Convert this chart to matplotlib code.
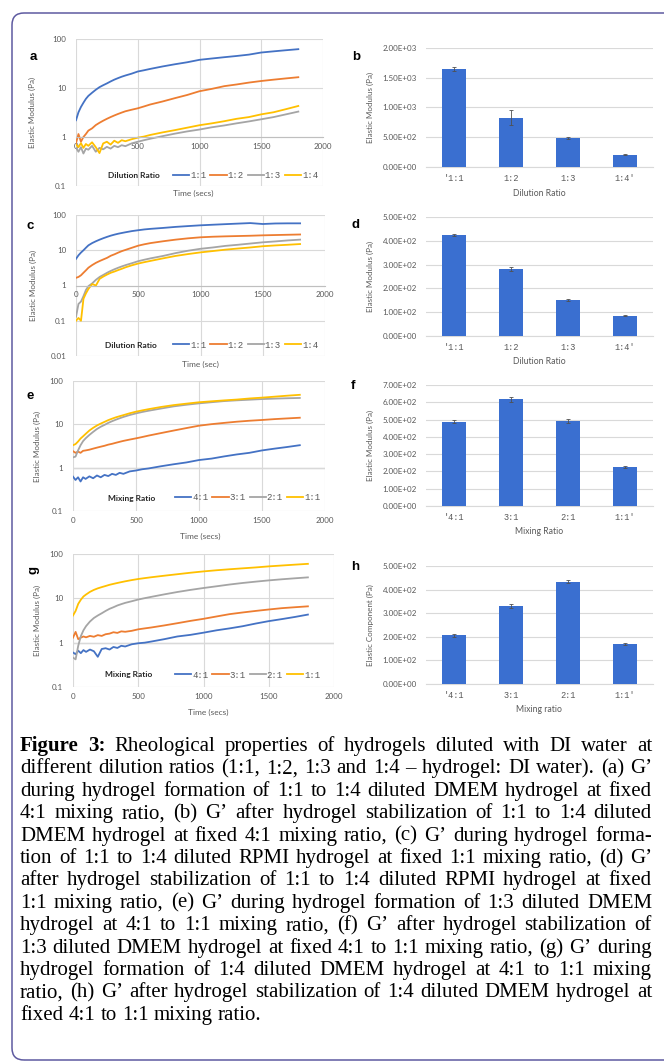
import matplotlib
matplotlib.use("Agg")
import matplotlib.pyplot as plt
from matplotlib.lines import Line2D
from matplotlib.patches import FancyBboxPatch
from matplotlib.transforms import IdentityTransform

W, H = 664, 1061
plt.rcParams['font.family'] = ['Lato', 'DejaVu Sans']

# ── data ────────────────────────────────────────────────────────────────
time_s = [0, 20, 40, 60, 80, 100, 130, 160, 190, 220, 250, 280, 310, 340, 370, 400,
          450, 500, 550, 600, 700, 800, 900, 1000, 1100, 1200, 1300, 1400, 1500, 1600, 1700, 1800]

# (a) DMEM, dilution 1:1 .. 1:4
a_11 = [2.2, 3.2, 4.1, 5.0, 6.0, 6.9, 8.0, 9.2, 10.4, 11.4, 12.4, 13.6, 14.8, 15.9, 17.0, 18.0,
        19.6, 21.7, 23.0, 24.5, 27.5, 30.5, 33.5, 37.6, 40.0, 42.5, 45.0, 48.0, 53.0, 56.0, 59.0, 62.0]
a_12 = [0.75, 1.15, 0.8, 1.0, 1.15, 1.35, 1.5, 1.75, 1.95, 2.15, 2.35, 2.55, 2.75, 2.95, 3.15, 3.35,
        3.6, 3.85, 4.2, 4.6, 5.3, 6.2, 7.2, 8.6, 9.6, 10.9, 11.8, 12.9, 13.9, 14.8, 15.7, 16.6]
a_13 = [0.6, 0.5, 0.62, 0.46, 0.58, 0.55, 0.66, 0.5, 0.6, 0.56, 0.63, 0.58, 0.66, 0.62, 0.68, 0.65,
        0.74, 0.8, 0.86, 0.92, 1.04, 1.17, 1.3, 1.42, 1.58, 1.72, 1.9, 2.08, 2.3, 2.55, 2.9, 3.3]
a_14 = [0.7, 0.62, 0.75, 0.6, 0.72, 0.66, 0.78, 0.62, 0.47, 0.74, 0.8, 0.7, 0.84, 0.76, 0.86, 0.82,
        0.9, 0.97, 1.02, 1.1, 1.24, 1.38, 1.55, 1.74, 1.9, 2.1, 2.35, 2.55, 2.9, 3.2, 3.7, 4.3]

# (c) RPMI, dilution 1:1 .. 1:4
c_11 = [5.7, 7.2, 8.6, 10.0, 11.8, 13.8, 16.0, 18.0, 20.0, 22.0, 24.0, 26.0, 27.8, 29.5, 31.0, 32.5,
        35.0, 37.0, 39.0, 40.5, 43.0, 46.0, 48.5, 51.0, 53.0, 55.0, 57.0, 59.0, 55.5, 57.5, 58.0, 58.0]
c_12 = [1.65, 1.75, 1.95, 2.3, 2.7, 3.2, 3.8, 4.4, 4.95, 5.5, 6.1, 7.0, 7.7, 8.6, 9.5, 10.3,
        11.8, 13.5, 14.8, 16.0, 18.0, 20.0, 21.8, 23.3, 24.2, 24.8, 25.3, 25.8, 26.5, 27.0, 27.5, 28.0]
c_13 = [0.13, 0.3, 0.35, 0.5, 0.75, 0.96, 1.15, 1.45, 1.75, 2.0, 2.3, 2.6, 2.9, 3.2, 3.5, 3.8,
        4.3, 4.9, 5.4, 5.9, 6.9, 8.3, 9.7, 11.0, 12.0, 13.3, 14.3, 15.5, 16.8, 17.8, 19.0, 20.0]
c_14 = [0.1, 0.12, 0.1, 0.42, 0.6, 0.8, 1.1, 1.0, 1.55, 1.8, 2.05, 2.3, 2.5, 2.75, 3.0, 3.3,
        3.75, 4.2, 4.6, 5.0, 5.9, 6.9, 7.8, 8.7, 9.5, 10.4, 11.2, 12.0, 13.0, 13.7, 14.3, 15.0]

# (e) 1:3 DMEM, mixing 4:1 .. 1:1
e_41 = [0.62, 0.52, 0.6, 0.48, 0.6, 0.55, 0.63, 0.57, 0.66, 0.6, 0.68, 0.64, 0.72, 0.68, 0.76, 0.72,
        0.82, 0.86, 0.92, 0.96, 1.08, 1.2, 1.32, 1.5, 1.62, 1.82, 2.02, 2.2, 2.5, 2.75, 3.0, 3.3]
e_31 = [2.4, 2.2, 2.35, 2.2, 2.45, 2.5, 2.6, 2.75, 2.9, 3.05, 3.2, 3.4, 3.55, 3.75, 3.95, 4.15,
        4.45, 4.75, 5.1, 5.5, 6.3, 7.2, 8.2, 9.3, 10.1, 10.8, 11.5, 12.1, 12.6, 13.2, 13.7, 14.2]
e_21 = [1.73, 1.8, 2.5, 3.3, 4.1, 4.75, 5.7, 6.7, 7.8, 8.8, 9.7, 10.8, 11.8, 12.8, 13.8, 14.8,
        16.4, 17.9, 19.3, 20.6, 23.2, 26.0, 28.3, 30.5, 32.4, 34.4, 35.8, 37.0, 38.3, 39.2, 40.0, 40.6]
e_11 = [3.3, 3.5, 4.0, 4.7, 5.3, 6.0, 7.2, 8.3, 9.4, 10.4, 11.4, 12.5, 13.5, 14.5, 15.4, 16.3,
        18.0, 19.6, 21.0, 22.4, 25.2, 27.8, 30.0, 32.3, 34.0, 35.7, 37.3, 39.5, 41.3, 43.5, 45.8, 48.0]

# (g) 1:4 DMEM, mixing 4:1 .. 1:1
g_41 = [0.6, 0.55, 0.66, 0.58, 0.68, 0.62, 0.7, 0.64, 0.48, 0.72, 0.75, 0.7, 0.8, 0.76, 0.85, 0.82,
        0.92, 0.97, 1.0, 1.06, 1.2, 1.38, 1.5, 1.68, 1.9, 2.1, 2.35, 2.7, 3.06, 3.4, 3.8, 4.3]
g_31 = [1.3, 1.75, 1.2, 1.3, 1.38, 1.32, 1.42, 1.36, 1.48, 1.42, 1.55, 1.6, 1.72, 1.66, 1.8, 1.76,
        1.85, 2.0, 2.1, 2.2, 2.45, 2.75, 3.1, 3.45, 3.9, 4.4, 4.8, 5.2, 5.6, 6.0, 6.3, 6.6]
g_21 = [0.46, 0.42, 0.85, 1.4, 1.9, 2.36, 3.0, 3.6, 4.1, 4.6, 5.2, 5.8, 6.3, 6.9, 7.4, 7.9,
        8.6, 9.4, 10.1, 10.8, 12.3, 13.9, 15.5, 17.1, 18.7, 20.5, 22.2, 23.8, 25.4, 26.9, 28.3, 29.7]
g_11 = [4.1, 5.2, 7.5, 9.3, 11.0, 12.2, 14.0, 15.5, 16.8, 17.9, 19.0, 20.2, 21.2, 22.2, 23.2, 24.2,
        25.8, 27.3, 28.6, 29.9, 32.4, 35.0, 37.8, 40.5, 43.0, 45.3, 47.5, 49.8, 52.6, 55.0, 57.5, 60.0]

dilution_names = ["1:1", "1:2", "1:3", "1:4"]
mixing_names = ["4:1", "3:1", "2:1", "1:1"]
dilution_cats = ["'1:1", "1:2", "1:3", "1:4'"]
mixing_cats = ["'4:1", "3:1", "2:1", "1:1'"]

b_vals = [1650, 830, 487, 207]
b_err = [30, 125, 10, 5]
d_vals = [424, 282, 151, 85]
d_err = [4, 9, 3, 2]
f_vals = [488, 617, 492, 226]
f_err = [10, 15, 11, 4]
h_vals = [207, 331, 434, 168]
h_err = [6, 8, 8, 4]

caption_lines = [
    "Figure 3: Rheological properties of hydrogels diluted with DI water at",
    "different dilution ratios (1:1, 1:2, 1:3 and 1:4 \u2013 hydrogel: DI water). (a) G\u2019",
    "during hydrogel formation of 1:1 to 1:4 diluted DMEM hydrogel at fixed",
    "4:1 mixing ratio, (b) G\u2019 after hydrogel stabilization of 1:1 to 1:4 diluted",
    "DMEM hydrogel at fixed 4:1 mixing ratio, (c) G\u2019 during hydrogel forma-",
    "tion of 1:1 to 1:4 diluted RPMI hydrogel at fixed 1:1 mixing ratio, (d) G\u2019",
    "after hydrogel stabilization of 1:1 to 1:4 diluted RPMI hydrogel at fixed",
    "1:1 mixing ratio, (e) G\u2019 during hydrogel formation of 1:3 diluted DMEM",
    "hydrogel at 4:1 to 1:1 mixing ratio, (f) G\u2019 after hydrogel stabilization of",
    "1:3 diluted DMEM hydrogel at fixed 4:1 to 1:1 mixing ratio, (g) G\u2019 during",
    "hydrogel formation of 1:4 diluted DMEM hydrogel at 4:1 to 1:1 mixing",
    "ratio, (h) G\u2019 after hydrogel stabilization of 1:4 diluted DMEM hydrogel at",
    "fixed 4:1 to 1:1 mixing ratio.",
]

# ── styling ─────────────────────────────────────────────────────────────
LINE_COLORS = ["#4472c4", "#ed7d31", "#a5a5a5", "#ffc000"]
BAR_BLUE = "#3a6fd0"
GRID = "#d9d9d9"
TXT = "#595959"
MONO = ["Liberation Mono", "DejaVu Sans Mono"]

fig = plt.figure(figsize=(W / 100, H / 100), dpi=100)


def fx(x):
    return x / W


def fy(y):
    return 1 - y / H


def add_ax(left, top, right, bottom):
    return fig.add_axes([fx(left), fy(bottom), (right - left) / W, (bottom - top) / H])


def line_panel(box, series, names, ylim, leg_title, leg_xy, leg_x, xlabel, xlabel_xy,
               axis_at_one, letter, letter_xy, ylabel_x, letter_rot=0):
    ax = add_ax(*box)
    for vals, col in zip(series, LINE_COLORS):
        ax.plot(time_s, vals, color=col, lw=1.3, solid_joinstyle="round")
    ax.set_yscale("log")
    ax.set_ylim(*ylim)
    ax.set_xlim(0, 2000)
    yt = [v for v in [0.01, 0.1, 1, 10, 100] if ylim[0] <= v <= ylim[1]]
    ax.set_yticks(yt)
    ax.set_yticklabels([f"{v:g}" for v in yt])
    ax.minorticks_off()
    ax.set_xticks([0, 500, 1000, 1500, 2000])
    ax.set_xticklabels(["0", "500", "1000", "1500", "2000"])
    ax.grid(True, color=GRID, lw=0.8)
    ax.set_axisbelow(True)
    for s in ["top", "right", "left"]:
        ax.spines[s].set_visible(False)
    if axis_at_one:
        ax.spines["bottom"].set_position(("data", 1))
        ax.spines["bottom"].set_color("#bfbfbf")
    else:
        ax.spines["bottom"].set_visible(False)
        ax.axhline(1, color="#b0b0b0", lw=0.9, zorder=0.5)
    ax.tick_params(axis="both", length=0, labelsize=5.8, labelcolor=TXT)
    ax.tick_params(axis="y", pad=7)
    ax.tick_params(axis="x", pad=4)
    handles = [Line2D([], [], color=c, lw=1.3) for c in LINE_COLORS]
    fig.legend(handles, names, loc="center left", bbox_to_anchor=(fx(leg_x), fy(leg_xy[1])),
               ncol=4, frameon=False, prop={"family": MONO, "size": 6.5},
               handlelength=1.8, handletextpad=0.1, columnspacing=0.45,
               borderpad=0, borderaxespad=0, labelcolor=TXT)
    fig.text(fx(leg_xy[0]), fy(leg_xy[1]), leg_title, fontsize=6, fontweight="bold",
             color="#262626", ha="left", va="center")
    fig.text(fx(xlabel_xy[0]), fy(xlabel_xy[1]), xlabel, fontsize=6, color=TXT,
             ha="center", va="center")
    fig.text(fx(ylabel_x), fy((box[1] + box[3]) / 2), "Elastic Modulus (Pa)", fontsize=5.8,
             color=TXT, rotation=90, ha="center", va="center")
    fig.text(fx(letter_xy[0]), fy(letter_xy[1]), letter, fontsize=9.5, fontweight="bold",
             family=["Liberation Sans", "DejaVu Sans"], ha="center", va="center",
             rotation=letter_rot)
    return ax


def bar_panel(box, vals, errs, cats, ymax, ystep, ylabel, xlabel, letter, letter_xy):
    ax = add_ax(*box)
    ax.bar(range(len(vals)), vals, width=0.42, color=BAR_BLUE, yerr=errs, zorder=3,
           error_kw=dict(ecolor="#505050", elinewidth=0.6, capsize=1.6, capthick=0.6, zorder=4))
    ax.set_xlim(-0.5, len(vals) - 0.5)
    ax.set_ylim(0, ymax)
    ticks = [i * ystep for i in range(int(round(ymax / ystep)) + 1)]
    ax.set_yticks(ticks)
    ax.set_yticklabels(["%.2E" % t for t in ticks])
    ax.set_xticks(range(len(cats)))
    ax.set_xticklabels(cats, family=MONO, fontsize=6.2)
    ax.grid(True, axis="y", color=GRID, lw=0.8)
    ax.set_axisbelow(True)
    for s in ["top", "right", "left"]:
        ax.spines[s].set_visible(False)
    ax.spines["bottom"].set_color(GRID)
    ax.tick_params(axis="both", length=0, labelcolor=TXT)
    ax.tick_params(axis="y", pad=6.5, labelsize=5.8)
    ax.tick_params(axis="x", pad=5)
    fig.text(fx(539), fy(box[3] + 26), xlabel, fontsize=6.2, color=TXT, ha="center", va="center")
    fig.text(fx(370), fy((box[1] + box[3]) / 2), ylabel, fontsize=5.8, color=TXT,
             rotation=90, ha="center", va="center")
    fig.text(fx(letter_xy[0]), fy(letter_xy[1]), letter, fontsize=9.5, fontweight="bold",
             family=["Liberation Sans", "DejaVu Sans"], ha="center", va="center")
    return ax


# ── panels ──────────────────────────────────────────────────────────────
line_panel((76, 39, 323, 186), [a_11, a_12, a_13, a_14], dilution_names, (0.1, 100),
           "Dilution Ratio", (108, 176), 173, "Time (secs)", (193, 193),
           True, "a", (33, 57), 32)
line_panel((76, 215, 325, 356), [c_11, c_12, c_13, c_14], dilution_names, (0.01, 100),
           "Dilution Ratio", (105, 345), 173, "Time (sec)", (200, 364),
           True, "c", (30, 226), 33)
line_panel((73, 381, 325, 511), [e_41, e_31, e_21, e_11], mixing_names, (0.1, 100),
           "Mixing Ratio", (108, 498), 175, "Time (secs)", (200, 536),
           False, "e", (30, 396), 37)
line_panel((73, 554, 334, 687), [g_41, g_31, g_21, g_11], mixing_names, (0.1, 100),
           "Mixing Ratio", (105, 675), 175, "Time (secs)", (208, 712),
           False, "g", (33, 570), 37, letter_rot=90)

bar_panel((426, 48, 653, 167), b_vals, b_err, dilution_cats, 2000, 500,
          "Elastic Modulus (Pa)", "Dilution Ratio", "b", (356, 57))
bar_panel((426, 217, 653, 336), d_vals, d_err, dilution_cats, 500, 100,
          "Elastic Modulus (Pa)", "Dilution Ratio", "d", (356, 225))
bar_panel((426, 385, 653, 506), f_vals, f_err, mixing_cats, 700, 100,
          "Elastic Modulus (Pa)", "Mixing Ratio", "f", (353, 386))
bar_panel((426, 566, 653, 684), h_vals, h_err, mixing_cats, 500, 100,
          "Elastic Component (Pa)", "Mixing ratio", "h", (355, 567))

# ── rounded frame ───────────────────────────────────────────────────────
frame = FancyBboxPatch((12, H - 1060), 700, 1060 - 13, boxstyle="round,pad=0,rounding_size=12",
                       transform=IdentityTransform(), fill=False, edgecolor="#5e5aa0", lw=1.1)
fig.patches.append(frame)

# ── justified caption ───────────────────────────────────────────────────
renderer = fig.canvas.get_renderer()
CAP_SIZE = 15
X0, X1 = 20, 652
BASE0, DY = 751, 22.4
for i, line in enumerate(caption_lines):
    words = line.split(" ")
    texts = []
    for j, w in enumerate(words):
        bold = (i == 0 and j < 2)
        t = fig.text(0, fy(BASE0 + i * DY), w, fontsize=CAP_SIZE,
                     family=["Liberation Serif", "DejaVu Serif"],
                     fontweight="bold" if bold else "normal", ha="left", va="baseline")
        texts.append(t)
    widths = [t.get_window_extent(renderer).width for t in texts]
    if i == len(caption_lines) - 1:
        space = CAP_SIZE * 100 / 72 * 0.25
    else:
        space = (X1 - X0 - sum(widths)) / (len(words) - 1)
    x = X0
    for t, w in zip(texts, widths):
        t.set_x(fx(x))
        x += w + space

fig.savefig("out.png", dpi=100)
